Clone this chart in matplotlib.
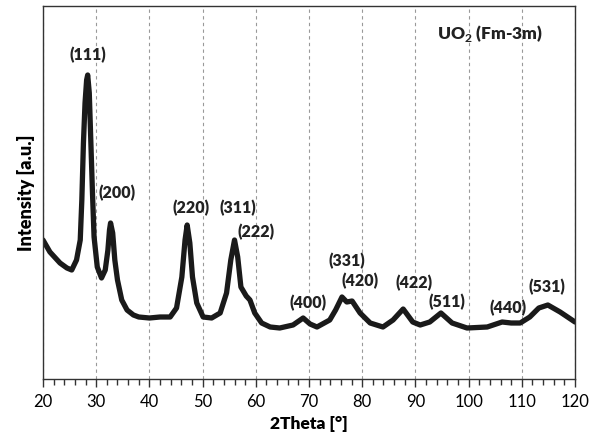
import matplotlib
matplotlib.use("Agg")
import matplotlib.pyplot as plt
from matplotlib.ticker import MultipleLocator

plt.rcParams['font.family'] = ['Lato', 'DejaVu Sans']
plt.rcParams['mathtext.fontset'] = 'custom'
plt.rcParams['mathtext.rm'] = 'Lato'
plt.rcParams['mathtext.bf'] = 'Lato:bold'

# diffraction pattern (2theta in degrees, intensity in a.u.)
two_theta = [20.0, 21.3, 23.2, 24.5, 25.4, 26.3, 27.0, 27.3, 27.6, 27.9, 28.2,
             28.4, 28.7, 29.0, 29.3, 29.6, 30.2, 31.0, 31.7, 32.2, 32.5, 32.7,
             33.1, 33.5, 34.0, 34.8, 35.8, 37.0, 38.0, 40.0, 42.0, 43.9, 45.1,
             46.1, 46.7, 47.1, 47.6, 48.1, 48.9, 50.1, 51.7, 53.3, 54.5, 55.3,
             56.0, 56.6, 57.2, 58.2, 58.9, 59.8, 61.1, 62.7, 64.5, 67.0, 68.9,
             70.2, 71.5, 73.9, 75.0, 76.2, 77.1, 78.1, 79.6, 81.5, 83.9, 85.8,
             87.7, 89.5, 90.9, 92.7, 94.8, 96.9, 99.7, 103.5, 106.3, 108.0,
             109.7, 111.5, 113.2, 114.9, 117.2, 120.0]
intensity = [139, 127, 116, 111, 109, 119, 139, 179, 236, 276, 299,
             304, 286, 236, 186, 142, 112, 101, 109, 129, 149, 156,
             146, 119, 99, 79, 69, 64, 62, 61, 62, 62, 71,
             102, 139, 154, 136, 102, 76, 62, 61, 66, 86, 119,
             139, 122, 92, 83, 79, 66, 56, 52, 51, 54, 61,
             55, 52, 59, 69, 82, 77, 78, 66, 56, 52, 59,
             70, 57, 54, 57, 66, 56, 51, 52, 57, 56,
             56, 62, 71, 74, 67, 57]

# reflection labels and where they sit
hkl = ['(111)', '(200)', '(220)', '(311)', '(222)', '(400)', '(331)', '(420)',
       '(422)', '(511)', '(440)', '(531)']
hkl_x = [28.5, 33.9, 47.8, 56.7, 60.0, 69.8, 77.1, 79.6, 89.7, 95.9, 107.4, 114.7]
hkl_y = [324, 186, 171, 171, 147, 76, 118, 98, 96, 77, 71, 92]

fig = plt.figure(figsize=(6, 4.42), dpi=100)
ax = fig.add_axes([43/600, 63/442, 532/600, 373/442])

ax.plot(two_theta, intensity, color='#1a1a1a', lw=3.8,
        solid_joinstyle='round', solid_capstyle='round')

for lab, x, y in zip(hkl, hkl_x, hkl_y):
    ax.text(x, y, lab, ha='center', va='center', fontsize=11.5,
            fontweight='heavy', color='#222222')

ax.text(94.1, 346, r'UO$_\mathbf{2}$ (Fm-3m)', ha='left', va='center',
        fontsize=12.5, fontweight='heavy', color='#222222')

ax.set_xlim(20, 120)
ax.set_ylim(0, 373)
ax.xaxis.set_major_locator(MultipleLocator(10))
ax.xaxis.set_minor_locator(MultipleLocator(2))
ax.set_yticks([])
ax.tick_params(axis='x', which='major', direction='out', length=6, width=1,
               color='#333333', labelsize=12, pad=5)
ax.tick_params(axis='x', which='minor', direction='out', length=4, width=1,
               color='#333333')
ax.grid(axis='x', which='major', linestyle=(0, (3, 3)), color='#999999', lw=0.8)
for s in ax.spines.values():
    s.set_color('#333333')
    s.set_linewidth(1.0)

ax.set_xlabel('2Theta [°]', fontsize=12.5, fontweight='heavy', labelpad=4)
ax.set_ylabel('Intensity [a.u.]', fontsize=13, fontweight='heavy', labelpad=6)

fig.savefig('out.png', dpi=100)
